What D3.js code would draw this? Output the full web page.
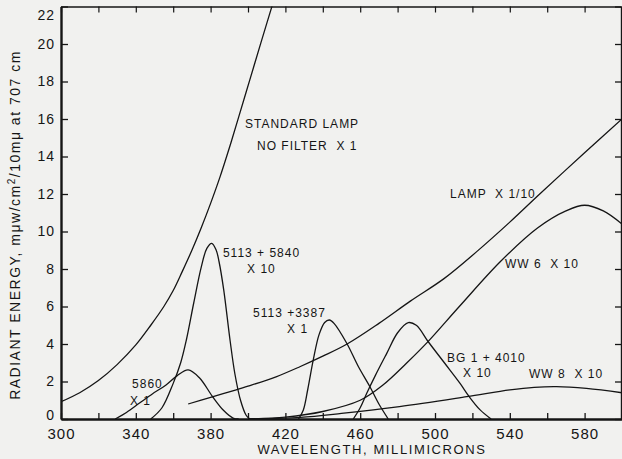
<!DOCTYPE html>
<html>
<head>
<meta charset="utf-8">
<script src="https://cdn.jsdelivr.net/npm/d3@7"></script>
<style>
  body { margin: 0; background: #f1f1ef; }
  svg { display: block; }
  .axis text { font-family: "Liberation Sans", sans-serif; font-size: 15px; fill: #151515; letter-spacing: 1px; }
  .note { font-family: "Liberation Sans", sans-serif; font-size: 12px; fill: #151515; letter-spacing: 1px; }
</style>
</head>
<body>
<svg id="chart" width="622" height="459"></svg>
<script>
(function() {

  // wavelength (nm) / radiant energy pairs
  let standardLamp = [[300, 0.92], [310, 1.4], [320, 2.05], [330, 2.9], [340, 3.95], [348, 5.0],
                      [355, 6.0], [360, 6.85], [365, 7.9], [370, 9.0], [375, 10.2], [380, 11.5],
                      [385, 12.9], [390, 14.45], [395, 16.1], [401, 18.1], [407, 20.1], [414, 22.4]];
  let lampTenth = [[368, 0.8], [380, 1.15], [390, 1.45], [400, 1.75], [415, 2.25], [428, 2.8],
                   [440, 3.35], [453, 4.0], [470, 5.1], [487, 6.3], [505, 7.5], [522, 8.9],
                   [540, 10.5], [556, 12.0], [580, 14.2], [600, 16.0]];
  let f5860 = [[329, 0], [335, 0.35], [342, 0.85], [349, 1.35], [356, 1.8], [362, 2.3], [368, 2.62],
               [374, 2.2], [381, 1.2], [387, 0.45], [392, 0.05], [395, 0]];
  let f5113_5840 = [[348, 0], [354, 0.6], [360, 1.9], [364, 3.0], [367, 4.2], [371, 6.2], [375, 8.1],
                    [378, 9.1], [380.6, 9.37], [383, 9.0], [384.5, 8.4], [387, 6.9], [390.4, 4.2],
                    [393, 2.4], [396, 1.0], [399, 0.2], [401, 0]];
  let f5113_3387 = [[427, 0], [429.6, 0.48], [432, 1.6], [434.9, 3.15], [438, 4.5], [441, 5.15],
                    [443.5, 5.28], [446, 5.1], [452.8, 4.04], [459, 2.8], [465.2, 1.72], [470, 0.8],
                    [475, 0]];
  let fBG1_4010 = [[456.3, 0], [460, 0.6], [463.5, 1.37], [468, 2.3], [474.2, 3.5], [480, 4.6],
                   [485.7, 5.14], [490, 5.0], [496.4, 4.12], [505, 3.0], [513.4, 1.9], [518.3, 1.19],
                   [524, 0.5], [530, 0]];
  let fWW6 = [[400, 0], [420, 0.1], [440, 0.4], [460, 1.0], [472, 1.8], [485, 3.0], [496, 4.1],
              [513, 6.0], [535, 8.4], [555, 10.2], [570, 11.1], [580, 11.4], [590, 11.1], [600, 10.4]];
  let fWW8 = [[400, 0], [428, 0.09], [450, 0.3], [481, 0.66], [517, 1.19], [540, 1.55], [553, 1.69],
              [565, 1.73], [581, 1.63], [600, 1.4]];

  let curves = [standardLamp, lampTenth, f5860, f5113_5840, f5113_3387, fBG1_4010, fWW6, fWW8];

  let xTicks = d3.range(300, 601, 20);
  let xTickLabels = [300, 340, 380, 420, 460, 500, 540, 580];
  let yTicks = d3.range(0, 23, 2);

  // curve labels, anchored in data units (nm, energy)
  let notes = [
    ["STANDARD LAMP", 398.4, 15.5],
    ["NO FILTER  X 1", 404.8, 14.35],
    ["LAMP  X 1/10", 508, 11.8],
    ["WW 6  X 10", 537.4, 8.05],
    ["5113 + 5840", 386.6, 8.64],
    ["X 10", 399.5, 7.79],
    ["5113 +3387", 402.7, 5.44],
    ["X 1", 420.9, 4.59],
    ["5860", 338, 1.65],
    ["X 1", 336.9, 0.75],
    ["BG 1 + 4010", 506.4, 3.04],
    ["X 10", 515, 2.24],
    ["WW 8  X 10", 550.3, 2.19]
  ];

  let svg = d3.select("#chart");

  let x = d3.scaleLinear().domain([300, 600]).range([61, 622]);
  let y = d3.scaleLinear().domain([0, 22]).range([419, 6.5]);

  svg.append("defs").append("clipPath").attr("id", "plot")
     .append("rect")
     .attr("x", x(300)).attr("y", y(22))
     .attr("width", x(600) - x(300)).attr("height", y(0) - y(22));

  // frame + ticks
  svg.append("g")
     .attr("class", "axis")
     .attr("transform", "translate(0," + y(0) + ")")
     .call(d3.axisBottom(x).tickValues(xTicks).tickSizeInner(-6).tickSizeOuter(0).tickPadding(9)
             .tickFormat(d => xTickLabels.includes(d) ? d : ""))
     .call(g => g.select(".domain").attr("stroke-width", 2.6))
     .call(g => g.selectAll(".tick line").attr("stroke-width", 1.3));
  svg.append("g")
     .attr("class", "axis")
     .attr("transform", "translate(0," + y(22) + ")")
     .call(d3.axisTop(x).tickValues(xTicks).tickSizeInner(-6).tickSizeOuter(0).tickFormat(""))
     .call(g => g.select(".domain").attr("stroke-width", 1.6))
     .call(g => g.selectAll(".tick line").attr("stroke-width", 1.2));
  svg.append("g")
     .attr("class", "axis")
     .attr("transform", "translate(" + x(300) + ",0)")
     .call(d3.axisLeft(y).tickValues(yTicks).tickSizeInner(-7).tickSizeOuter(0).tickPadding(6))
     .call(g => g.select(".domain").attr("stroke-width", 2.4))
     .call(g => g.selectAll(".tick line").attr("stroke-width", 1.3))
     // end labels nudged inside so they clear the frame and the x labels
     .call(g => g.selectAll(".tick text").filter(d => d === 22).attr("dy", "0.95em"))
     .call(g => g.selectAll(".tick text").filter(d => d === 0).attr("dy", "0.05em"))
     .call(g => g.selectAll(".tick text").style("font-size", "14px"));
  svg.append("g")
     .attr("class", "axis")
     .attr("transform", "translate(" + (x(600) - 1) + ",0)")
     .call(d3.axisRight(y).tickValues(yTicks).tickSizeInner(-6).tickSizeOuter(0).tickFormat(""))
     .call(g => g.select(".domain").attr("stroke-width", 1.4))
     .call(g => g.selectAll(".tick line").attr("stroke-width", 1.3));

  svg.selectAll(".axis .tick text").attr("fill", "#151515");
  svg.selectAll(".axis path, .axis line").attr("stroke", "#151515");

  // spectral curves
  let line = d3.line()
               .x(d => x(d[0]))
               .y(d => y(d[1]))
               .curve(d3.curveCatmullRom.alpha(0.5));

  svg.append("g")
     .attr("clip-path", "url(#plot)")
     .selectAll("path")
     .data(curves)
     .enter()
     .append("path")
     .attr("fill", "none")
     .attr("stroke", "#151515")
     .attr("stroke-width", 1.3)
     .attr("d", line);

  svg.selectAll(".note")
     .data(notes)
     .enter()
     .append("text")
     .attr("class", "note")
     .attr("x", d => x(d[1]))
     .attr("y", d => y(d[2]))
     .style("white-space", "pre")
     .text(d => d[0]);

  // axis titles
  svg.append("text")
     .attr("class", "note")
     .attr("text-anchor", "middle")
     .attr("x", 372)
     .attr("y", 454)
     .style("font-size", "13px")
     .style("letter-spacing", "1.6px")
     .text("WAVELENGTH, MILLIMICRONS");

  let yt = svg.append("text")
     .attr("class", "note")
     .attr("text-anchor", "middle")
     .attr("transform", "translate(20," + 225 + ") rotate(-90)")
     .style("font-size", "14px")
     .style("letter-spacing", "1.5px");
  yt.append("tspan").text("RADIANT ENERGY, mμw/cm");
  yt.append("tspan").attr("dy", -5).style("font-size", "10px").text("2");
  yt.append("tspan").attr("dy", 5).text("/10mμ at 707 cm");

})();
</script>
</body>
</html>
